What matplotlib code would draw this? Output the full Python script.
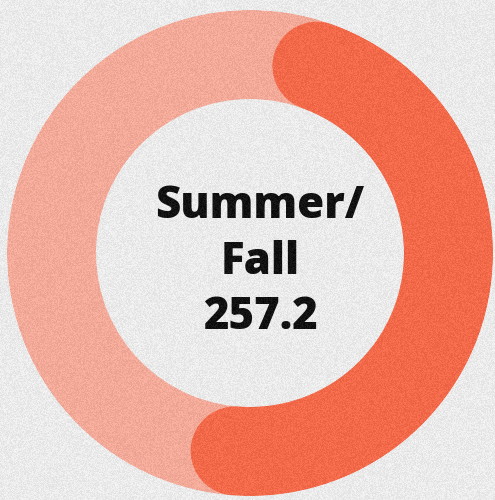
import numpy as np
import matplotlib
matplotlib.use("Agg")
import matplotlib.pyplot as plt
from matplotlib.colors import to_rgb

# Data
labels = ["Summer/Fall", "Other"]
values = [257.2, 305.3]
center_lines = ["Summer/", "Fall", "257.2"]

# Style
W, H, DPI = 495, 500, 100
grain_alpha, grain_mean = 0.07, 0.5


def precomp(hexcol):
    # lighten base colour so that the grain overlay lands on the target colour
    c = np.array(to_rgb(hexcol))
    return tuple(np.clip((c - grain_alpha * grain_mean) / (1 - grain_alpha), 0, 1))


bg = precomp("#EBEBEB")
light = precomp("#F2AA99")
dark = precomp("#F26A4A")
start_deg = 19.7
cx, cy = 250, 253          # ring center in px (from top-left)
r_out, r_in = 243, 154

fig = plt.figure(figsize=(W / DPI, H / DPI), dpi=DPI, facecolor=bg)
ax = fig.add_axes([(cx - r_out) / W, (H - cy - r_out) / H, 2 * r_out / W, 2 * r_out / H],
                  projection="polar")
ax.set_facecolor("none")
ax.set_theta_zero_location("N")
ax.set_theta_direction(-1)
ax.set_ylim(0, r_out)
ax.set_axis_off()

# light background ring (full circle)
ax.bar(0, r_out - r_in, width=2 * np.pi, bottom=r_in, color=light,
       edgecolor="none", align="edge")

# dark arc for first value, with rounded caps
total = sum(values)
frac = values[0] / total
t0 = np.deg2rad(start_deg)
t1 = t0 + frac * 2 * np.pi
theta = np.linspace(t0, t1, 400)
r_mid = (r_in + r_out) / 2
lw = (r_out - r_in) * 72 / DPI
ax.plot(theta, np.full_like(theta, r_mid), color=dark, lw=lw, solid_capstyle="round")

# centre text
baselines = [218, 273.5, 329]
for line, b in zip(center_lines, baselines):
    fig.text(260 / W, 1 - b / H, line, ha="center", va="baseline",
             fontsize=31.5, fontweight="heavy", family=["Open Sans", "DejaVu Sans"], color="#0A0A0A")

# paper grain overlay (decorative texture)
grain = np.random.default_rng(3).normal(grain_mean, 0.5, (H, W)).clip(0, 1)
ov = fig.add_axes([0, 0, 1, 1], zorder=10)
ov.imshow(grain, cmap="gray", alpha=grain_alpha, aspect="auto", interpolation="nearest")
ov.set_axis_off()

fig.savefig("out.png", dpi=DPI, facecolor=bg)
